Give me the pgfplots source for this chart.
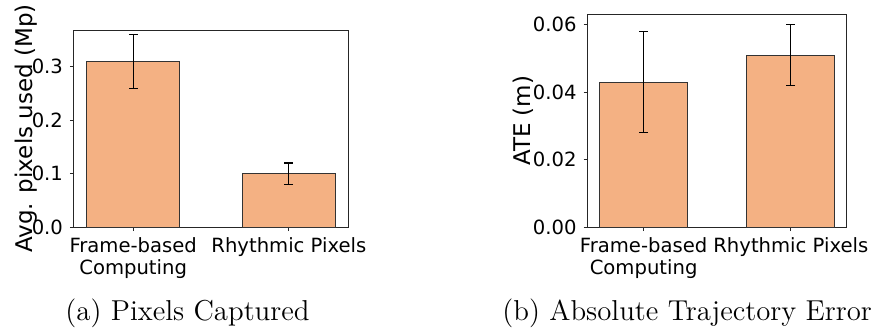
\documentclass[border=0pt]{standalone}
\usepackage{pgfplots}
\pgfplotsset{compat=1.18}
\usepackage{fontspec}
\newfontfamily\plotfont{DejaVu Sans}
\definecolor{barfill}{HTML}{F4B183}
\definecolor{baredge}{HTML}{333333}

\pgfplotstableread{
x y e
0 0.31 0.05
1 0.10 0.02
}\pixeldata
\pgfplotstableread{
x y e
0 0.043 0.015
1 0.051 0.009
}\atedata

\pgfplotsset{
  panel/.style={
    scale only axis, anchor=south west,
    axis line style={line width=0.5pt, black!85},
    every tick/.style={line width=0.5pt, black!85},
    tick align=outside, major tick length=2pt,
    xtick pos=left, ytick pos=left,
    xtick={0,1},
    xticklabels={{Frame-based\\Computing},{Rhythmic Pixels}},
    xmin=-0.38, xmax=1.38, ymin=0,
    scaled y ticks=false,
    tick label style={font=\plotfont\fontsize{9.8}{10.8}\selectfont},
    xticklabel style={align=center},
    label style={font=\plotfont\fontsize{11.5}{13}\selectfont},
    /pgf/number format/assume math mode=true,
    /pgf/number format/fixed,
    /pgf/number format/fixed zerofill,
  },
  peachbar/.style={
    ybar, bar width=0.6, fill=barfill, draw=baredge, line width=0.5pt,
    error bars/.cd, y dir=both, y explicit,
    error mark=|,
    error bar style={black, line width=0.6pt},
    error mark options={black, mark size=2.2pt, line width=0.6pt, solid},
  },
}

\begin{document}
\begin{tikzpicture}
\useasboundingbox (0,0) rectangle (439pt,164.5pt);

% (a) pixels used per frame
\begin{axis}[panel,
  at={(37pt,51pt)}, width=137pt, height=98.5pt,
  ymax=0.369, ytick={0,0.1,0.2,0.3},
  yticklabel style={/pgf/number format/precision=1},
  ylabel={Avg. pixels used (Mp)},
  ylabel style={at={(axis description cs:-0.175,0.5)}, anchor=center},
]
\addplot[peachbar] table[x=x, y=y, y error=e] {\pixeldata};
\end{axis}

% (b) trajectory error
\begin{axis}[panel,
  at={(293.85pt,51pt)}, width=129.5pt, height=106.15pt,
  ymax=0.063, ytick={0,0.02,0.04,0.06},
  yticklabel style={/pgf/number format/precision=2},
  ylabel={ATE (m)},
  ylabel style={at={(axis description cs:-0.25,0.5)}, anchor=center},
]
\addplot[peachbar] table[x=x, y=y, y error=e] {\atedata};
\end{axis}

\node[anchor=base, font=\fontsize{14.4}{16}\selectfont, inner sep=0pt] at (93.75pt,4.5pt) {(a) Pixels Captured};
\node[anchor=base west, font=\fontsize{14.4}{16}\selectfont, inner sep=0pt] at (251pt,4.5pt) {(b) Absolute Trajectory Error};
\end{tikzpicture}
\end{document}
